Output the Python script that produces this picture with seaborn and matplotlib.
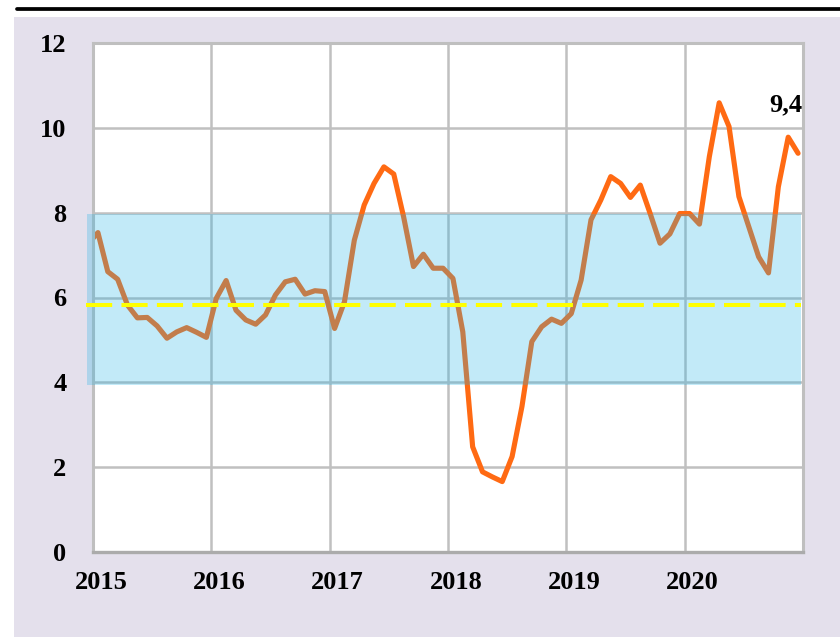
import numpy as np
import pandas as pd
import matplotlib
matplotlib.use("Agg")
import matplotlib.pyplot as plt
import matplotlib.transforms as mtransforms
from matplotlib.patches import Rectangle
from matplotlib.lines import Line2D
import seaborn as sns

# ---- data ----
years = [2015, 2016, 2017, 2018, 2019, 2020]
opening_value = 7.40  # value at the very start of 2015
values_2015 = [7.53, 6.61, 6.43, 5.82, 5.52, 5.53, 5.33, 5.04, 5.19, 5.29, 5.18, 5.06]
values_2016 = [5.98, 6.40, 5.70, 5.47, 5.37, 5.59, 6.06, 6.37, 6.43, 6.08, 6.16, 6.14]
values_2017 = [5.27, 5.90, 7.35, 8.18, 8.69, 9.08, 8.91, 7.90, 6.73, 7.02, 6.69, 6.69]
values_2018 = [6.45, 5.19, 2.48, 1.89, 1.77, 1.66, 2.25, 3.43, 4.96, 5.31, 5.49, 5.39]
values_2019 = [5.62, 6.41, 7.83, 8.30, 8.85, 8.69, 8.36, 8.65, 7.98, 7.28, 7.50, 7.98]
values_2020 = [7.98, 7.73, 9.32, 10.59, 10.03, 8.38, 7.67, 6.96, 6.58, 8.61, 9.78, 9.40]
target_low, target_high = 3.94, 7.97
reference_level = 5.82
last_label = "9,4"
y_ticks = [0, 2, 4, 6, 8, 10, 12]

monthly = values_2015 + values_2016 + values_2017 + values_2018 + values_2019 + values_2020
x_month = years[0] + (np.arange(len(monthly)) + 0.5) / 12.0
x_all = np.concatenate([[years[0] + 0.001], x_month])
y_all = np.concatenate([[opening_value], monthly])
df = pd.DataFrame({"x": x_all, "y": y_all})

# ---- style ----
sns.set_style("white")
plt.rcParams["font.family"] = ["Liberation Serif", "DejaVu Serif"]
plt.rcParams["font.weight"] = "bold"

W, H = 840, 637
fig = plt.figure(figsize=(W / 100, H / 100), dpi=100)
fig.patch.set_facecolor("white")

# lavender panel and top rule
fig.add_artist(Rectangle((14 / W, 0), 1 - 14 / W, (H - 17) / H,
                         transform=fig.transFigure, facecolor="#E4E0EC",
                         edgecolor="none", zorder=-5))
fig.add_artist(Line2D([17 / W, 1], [1 - 9.2 / H] * 2, transform=fig.transFigure,
                      color="black", lw=2.7, zorder=5))

ax = fig.add_axes([93 / W, 1 - 552 / H, (803 - 93) / W, (552 - 43) / H])
ax.set_facecolor("white")

sns.lineplot(data=df, x="x", y="y", ax=ax, color="#FF6A13", lw=3.7,
             zorder=2, sort=True, estimator=None)

ax.set_xlim(years[0], years[-1] + 1)
ax.set_ylim(0, 12)

# target band (translucent, over the line) and reference dashed line
ax.axhspan(target_low, target_high, xmin=-0.0085, xmax=0.997,
           facecolor=(30 / 255, 178 / 255, 230 / 255), alpha=0.27,
           lw=0, zorder=3, clip_on=False)
ax.axhline(reference_level, xmin=-0.0099, xmax=0.997, color="#FFFF00",
           lw=2.9, dashes=(6.5, 2.3), zorder=4, clip_on=False)

# grid
ax.set_xticks(years + [years[-1] + 1])
ax.set_xticklabels([str(y) for y in years] + [""])
ax.set_xticks([y + 0.5 for y in years], minor=True)
ax.set_yticks(y_ticks)
ax.set_yticklabels([str(v) for v in y_ticks])
ax.grid(True, which="major", color="#C0C0C0", lw=1.8, zorder=0)
ax.set_axisbelow(True)

for side in ["left", "right", "top"]:
    ax.spines[side].set_color("#BFBFBF")
    ax.spines[side].set_linewidth(2.2)
ax.spines["bottom"].set_color("#ABABAB")
ax.spines["bottom"].set_linewidth(2.4)

ax.tick_params(axis="x", which="both", direction="in", length=4, width=2,
               color="#ABABAB", pad=14, labelsize=19, labelcolor="black")
ax.tick_params(axis="y", which="both", length=0, pad=19, labelsize=19,
               labelcolor="black")
for lab in ax.get_xticklabels() + ax.get_yticklabels():
    lab.set_fontweight("bold")
offset = mtransforms.ScaledTranslation(8 / 100, 0, fig.dpi_scale_trans)
for lab in ax.get_xticklabels():
    lab.set_transform(lab.get_transform() + offset)

ax.set_xlabel("")
ax.set_ylabel("")

# label for last value
ax.annotate(last_label, xy=(x_all[-1], y_all[-1]), xytext=(-8.6, 35),
            textcoords="offset points", ha="center", va="center",
            fontsize=19, fontweight="bold", color="black", zorder=6)

fig.savefig("out.png", dpi=100)
